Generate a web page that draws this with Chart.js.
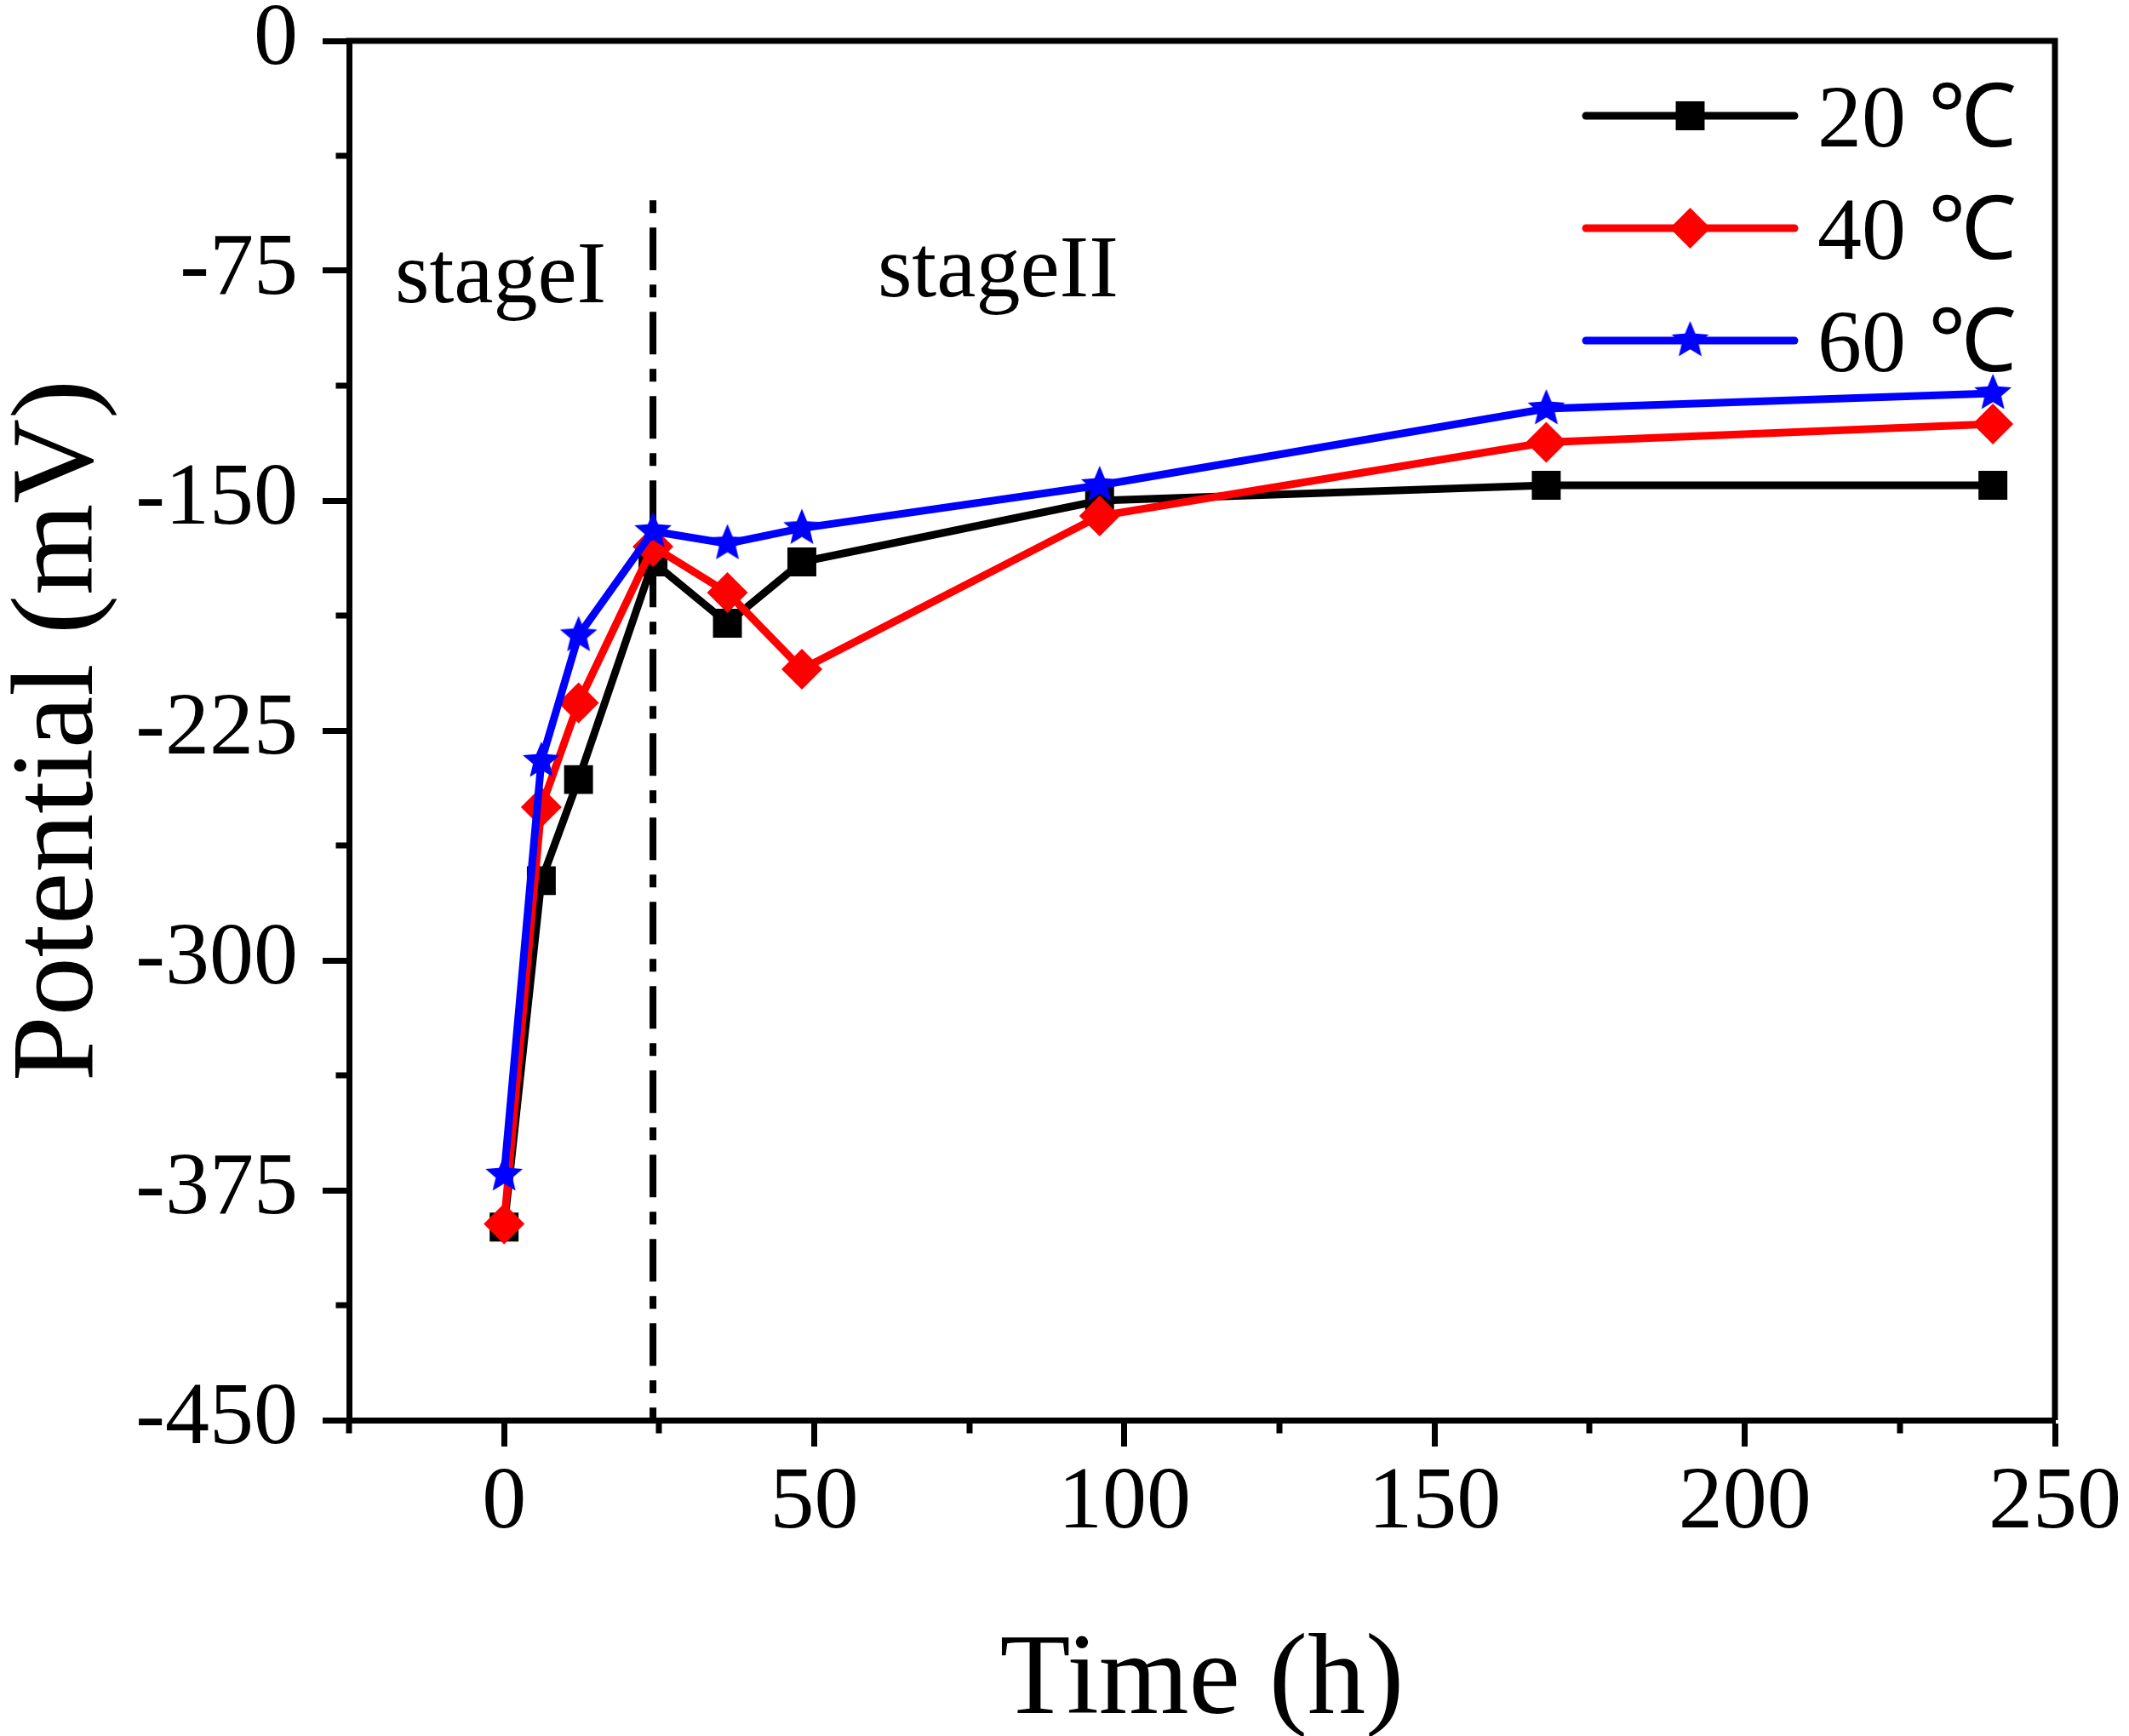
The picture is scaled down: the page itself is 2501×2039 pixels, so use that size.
<!DOCTYPE html>
<html>
<head>
<meta charset="utf-8">
<title>Potential vs time</title>
<script src="https://cdn.jsdelivr.net/npm/chart.js@4.4.1/dist/chart.umd.min.js"></script>
<style>
  html, body { margin: 0; padding: 0; background: #fff; }
  #wrap { width: 2501px; height: 2039px; }
</style>
</head>
<body>
<div id="wrap"><canvas id="chart" width="2501" height="2039"></canvas></div>
<script>
// ===== Data =====
// Sampling times (h)
const times = [0, 6, 12, 24, 36, 48, 96, 168, 240];

// Open circuit potential (mV) per temperature
const pot20 = [-387, -274, -241, -170, -190, -170, -150, -145, -145];
const pot40 = [-386, -250, -216, -165, -180, -205, -155, -131, -125];
const pot60 = [-370, -235, -194, -160, -164, -159, -145, -120, -115];

const seriesLabels = ['20 ℃', '40 ℃', '60 ℃'];

// Stage divider (dash-dot line) and the stage annotations
const stageLineX = [24, 24];
const stageLineY = [-52, -450];
const stageLabels = ['stageI', 'stageII'];
const stageLabelX = [-17.6, 60.2];
const stageLabelY = [-85.3, -83.3];

// Axis ranges and ticks
const xRange = [-25, 250];
const yRange = [-450, 0];
const xMajorStep = 50;
const yMajorStep = 75;
const xMinorTicks = [-25, 25, 75, 125, 175, 225];
const yMinorTicks = [-37.5, -112.5, -187.5, -262.5, -337.5, -412.5];

// ===== Styling =====
const FONT = "'Liberation Serif', 'Times New Roman', serif";
const AXIS_W = 7;
const TICK_LEN = 31;
const MINOR_LEN = 12;

Chart.defaults.font.family = FONT;
Chart.defaults.color = '#000';

const toPoints = (xs, ys) => xs.map((x, i) => ({ x: x, y: ys[i] }));

// Filled five-point star for the 60 ℃ series (Chart.js 'star' is only strokes)
function makeStar(outer, color) {
  const inner = outer * 0.45;
  const size = Math.ceil(outer * 2 + 2);
  const c = document.createElement('canvas');
  c.width = size;
  c.height = size;
  const g = c.getContext('2d');
  const cx = size / 2, cy = size / 2;
  g.beginPath();
  for (let k = 0; k < 10; k++) {
    const r = k % 2 === 0 ? outer : inner;
    const a = -Math.PI / 2 + k * Math.PI / 5;
    const px = cx + r * Math.cos(a), py = cy + r * Math.sin(a);
    if (k === 0) g.moveTo(px, py); else g.lineTo(px, py);
  }
  g.closePath();
  g.fillStyle = color;
  g.fill();
  return c;
}

const starMarker = makeStar(23, '#0000ff');

const series = [
  { label: seriesLabels[0], data: toPoints(times, pot20), color: '#000000', style: 'rect', radius: 24, order: 3 },
  { label: seriesLabels[1], data: toPoints(times, pot40), color: '#ff0000', style: 'rectRot', radius: 24, order: 2 },
  { label: seriesLabels[2], data: toPoints(times, pot60), color: '#0000ff', style: starMarker, radius: 23, order: 1 }
];

const datasets = series.map(s => ({
  label: s.label,
  data: s.data,
  order: s.order,
  borderColor: s.color,
  backgroundColor: s.color,
  borderWidth: 9,
  pointStyle: s.style,
  pointRadius: s.radius,
  pointHoverRadius: s.radius,
  pointBackgroundColor: s.color,
  pointBorderColor: s.color,
  pointBorderWidth: 0,
  tension: 0,
  _legend: true
}));

// dash-dot divider between the two stages
datasets.push({
  label: 'divider',
  data: toPoints(stageLineX, stageLineY),
  order: 4,
  borderColor: '#000',
  borderWidth: 8,
  borderDash: [50, 17, 15, 17],
  borderDashOffset: 67,
  pointRadius: 0,
  _legend: false
});

// ===== Plugins: frame + minor ticks, stage labels, inside legend =====
const framePlugin = {
  id: 'frame',
  afterDatasetsDraw(chart) {
    const { ctx, chartArea: a, scales } = chart;
    ctx.save();
    ctx.strokeStyle = '#000';
    ctx.lineWidth = AXIS_W;
    ctx.beginPath();
    ctx.moveTo(a.left - AXIS_W / 2, a.top);
    ctx.lineTo(a.right, a.top);
    ctx.lineTo(a.right, a.bottom);
    ctx.stroke();

    // minor ticks
    ctx.beginPath();
    xMinorTicks.forEach(v => {
      const px = Math.round(scales.x.getPixelForValue(v));
      ctx.moveTo(px, a.bottom);
      ctx.lineTo(px, a.bottom + AXIS_W / 2 + MINOR_LEN);
    });
    yMinorTicks.forEach(v => {
      const py = Math.round(scales.y.getPixelForValue(v));
      ctx.moveTo(a.left, py);
      ctx.lineTo(a.left - AXIS_W / 2 - MINOR_LEN, py);
    });
    ctx.stroke();

    // stage annotations
    ctx.fillStyle = '#000';
    ctx.font = '104px ' + FONT;
    ctx.textAlign = 'left';
    ctx.textBaseline = 'alphabetic';
    stageLabels.forEach((t, i) => {
      ctx.fillText(t, scales.x.getPixelForValue(stageLabelX[i]), scales.y.getPixelForValue(stageLabelY[i]));
    });
    ctx.restore();
  }
};

const legendPlugin = {
  id: 'insideLegend',
  afterDatasetsDraw(chart) {
    const { ctx, chartArea: a } = chart;
    const x0 = a.right - 551, x1 = a.right - 306, tx = a.right - 279;
    ctx.save();
    chart.data.datasets.filter(d => d._legend).forEach((d, i) => {
      const y = a.top + 88 + i * 132;
      ctx.strokeStyle = d.borderColor;
      ctx.lineWidth = d.borderWidth;
      ctx.lineCap = 'round';
      ctx.beginPath();
      ctx.moveTo(x0, y);
      ctx.lineTo(x1, y);
      ctx.stroke();
      ctx.fillStyle = d.pointBackgroundColor;
      Chart.helpers.drawPoint(ctx, {
        pointStyle: d.pointStyle,
        radius: d.pointRadius,
        rotation: 0,
        borderWidth: 0
      }, (x0 + x1) / 2, y);
      ctx.fillStyle = '#000';
      ctx.font = '104px ' + FONT;
      ctx.textAlign = 'left';
      ctx.textBaseline = 'alphabetic';
      ctx.fillText(d.label, tx, y + 36);
    });
    ctx.restore();
  }
};

// ===== Chart =====
new Chart(document.getElementById('chart'), {
  type: 'line',
  data: { datasets: datasets },
  options: {
    responsive: false,
    animation: false,
    devicePixelRatio: 1,
    layout: { padding: { top: 48, right: 87, left: 0, bottom: 0 } },
    plugins: {
      legend: { display: false },
      tooltip: { enabled: false }
    },
    scales: {
      x: {
        type: 'linear',
        min: xRange[0],
        max: xRange[1],
        afterFit: s => { s.height = 371; s.paddingLeft = 0; s.paddingRight = 0; },
        border: { display: true, color: '#000', width: AXIS_W },
        grid: { drawOnChartArea: false, drawTicks: true, tickLength: TICK_LEN, tickWidth: AXIS_W, tickColor: '#000' },
        ticks: {
          stepSize: xMajorStep,
          includeBounds: false,
          padding: 5,
          maxRotation: 0,
          autoSkip: false,
          font: { size: 104, lineHeight: 1.2 },
          color: '#000'
        },
        title: {
          display: true,
          text: 'Time (h)',
          font: { size: 136, lineHeight: 0.6 },
          padding: { top: 0, bottom: 22 },
          color: '#000'
        }
      },
      y: {
        type: 'linear',
        min: yRange[0],
        max: yRange[1],
        afterFit: s => { s.width = 410; s.paddingTop = 0; s.paddingBottom = 0; },
        border: { display: true, color: '#000', width: AXIS_W },
        grid: { drawOnChartArea: false, drawTicks: true, tickLength: TICK_LEN, tickWidth: AXIS_W, tickColor: '#000' },
        ticks: {
          stepSize: yMajorStep,
          padding: 29,
          font: { size: 104, lineHeight: 1.2 },
          color: '#000'
        },
        title: {
          display: true,
          text: 'Potential (mV)',
          font: { size: 138, lineHeight: 1 },
          padding: { top: 3, bottom: 0 },
          color: '#000'
        }
      }
    }
  },
  plugins: [framePlugin, legendPlugin]
});
</script>
</body>
</html>
